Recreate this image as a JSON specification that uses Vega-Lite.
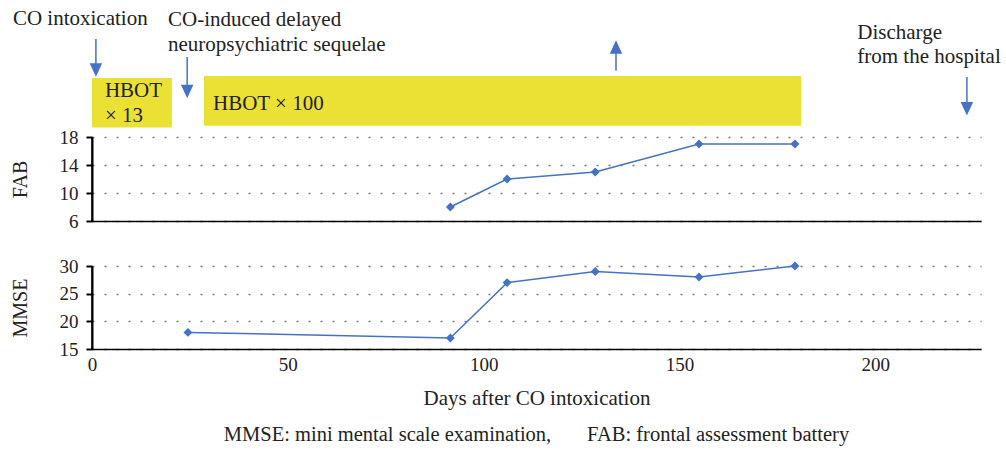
{
  "$schema": "https://vega.github.io/schema/vega-lite/v6.json",
  "padding": {"left": 10, "top": 0, "right": 5, "bottom": 8},
  "background": "white",
  "config": {
    "view": {"stroke": null},
    "font": "Liberation Serif",
    "axis": {
      "labelFont": "Liberation Serif",
      "titleFont": "Liberation Serif",
      "labelColor": "#222222",
      "titleColor": "#222222",
      "labelFontSize": 19,
      "titleFontSize": 20,
      "titleFontWeight": "normal",
      "domainColor": "#000000",
      "domainWidth": 1.5,
      "tickColor": "#000000",
      "labelFlush": false,
      "labelOverlap": false,
      "labelBound": false
    }
  },
  "title": {
    "text": "MMSE: mini mental scale examination,\u00a0\u00a0\u00a0\u00a0\u00a0\u00a0\u00a0FAB: frontal assessment battery",
    "orient": "bottom",
    "anchor": "middle",
    "frame": "group",
    "font": "Liberation Serif",
    "fontSize": 20.5,
    "fontWeight": "normal",
    "color": "#222222",
    "offset": 17
  },
  "spacing": 0,
  "bounds": "flush",
  "vconcat": [
    {
      "width": 889,
      "height": 137,
      "layer": [
        {
          "data": {"name": "rects"},
          "mark": {"type": "rect", "color": "#EBE134"},
          "encoding": {
            "x": {"field": "start", "type": "quantitative", "scale": {"domain": [0, 227], "nice": false}, "axis": null},
            "x2": {"field": "end"},
            "y": {"field": "bottom", "type": "quantitative", "scale": {"domain": [0, 137], "nice": false}, "axis": null},
            "y2": {"field": "top"}
          }
        },
        {
          "data": {"name": "arrows"},
          "mark": {"type": "rule", "color": "#4472C4", "strokeWidth": 1.5},
          "encoding": {
            "x": {"field": "day", "type": "quantitative", "scale": {"domain": [0, 227], "nice": false}, "axis": null},
            "y": {"field": "tail", "type": "quantitative", "scale": {"domain": [0, 137], "nice": false}, "axis": null},
            "y2": {"field": "neck"}
          }
        },
        {
          "data": {"name": "arrows"},
          "mark": {"type": "point", "filled": true, "color": "#4472C4", "opacity": 1, "size": 180, "strokeWidth": 0},
          "encoding": {
            "x": {"field": "day", "type": "quantitative", "scale": {"domain": [0, 227], "nice": false}, "axis": null},
            "y": {"field": "head", "type": "quantitative", "scale": {"domain": [0, 137], "nice": false}, "axis": null},
            "shape": {"field": "dir", "type": "nominal", "scale": {"domain": ["down", "up"], "range": ["M-0.93,-1L0.93,-1L0,1Z", "M-0.93,1L0.93,1L0,-1Z"]}, "legend": null}
          }
        },
        {
          "data": {"name": "labels"},
          "mark": {"type": "text", "align": "left", "baseline": "alphabetic", "fontSize": 21, "font": "Liberation Serif", "color": "#222222"},
          "encoding": {
            "x": {"field": "day", "type": "quantitative", "scale": {"domain": [0, 227], "nice": false}, "axis": null},
            "y": {"field": "level", "type": "quantitative", "scale": {"domain": [0, 137], "nice": false}, "axis": null},
            "text": {"field": "label"}
          }
        }
      ]
    },
    {
      "spacing": 45,
      "bounds": "flush",
      "vconcat": [
        {
          "width": 889,
          "height": 84,
          "layer": [
            {
              "data": {"name": "fab"},
              "mark": {"type": "line", "color": "#4472C4", "strokeWidth": 1.5},
              "encoding": {
                "x": {"field": "day", "type": "quantitative", "scale": {"domain": [0, 227], "nice": false},
                      "axis": {"title": null, "labels": false, "ticks": false, "grid": false, "domain": true, "domainDash": []}},
                "y": {"field": "FAB", "type": "quantitative", "title": "FAB", "scale": {"domain": [6, 18], "nice": false},
                      "axis": {"title": "FAB", "values": [6, 10, 14, 18], "grid": true, "gridDash": [2, 10], "gridColor": "#777777", "gridWidth": 1.5,
                               "domain": true, "domainColor": "#000000", "domainWidth": 2, "domainDash": [], "ticks": true, "tickColor": "#000000", "tickDash": [], "labels": true, "labelOverlap": false,
                               "tickSize": 6, "tickWidth": 2, "labelPadding": 8, "titleX": -62}}
              }
            },
            {
              "data": {"name": "fab"},
              "mark": {"type": "point", "shape": "diamond", "filled": true, "size": 80, "opacity": 1, "color": "#4472C4"},
              "encoding": {
                "x": {"field": "day", "type": "quantitative", "scale": {"domain": [0, 227], "nice": false},
                      "axis": {"title": null, "labels": false, "ticks": false, "grid": false, "domain": true, "domainDash": []}},
                "y": {"field": "FAB", "type": "quantitative", "title": "FAB", "scale": {"domain": [6, 18], "nice": false},
                      "axis": {"title": "FAB", "values": [6, 10, 14, 18], "grid": true, "gridDash": [2, 10], "gridColor": "#777777", "gridWidth": 1.5,
                               "domain": true, "domainColor": "#000000", "domainWidth": 2, "domainDash": [], "ticks": true, "tickColor": "#000000", "tickDash": [], "labels": true, "labelOverlap": false,
                               "tickSize": 6, "tickWidth": 2, "labelPadding": 8, "titleX": -62}}
              }
            },
            {
              "data": {"name": "fabaxis"},
              "mark": {"type": "rule", "color": "#000000", "strokeWidth": 1.5},
              "encoding": {
                "x": {"field": "day", "type": "quantitative", "scale": {"domain": [0, 227], "nice": false},
                      "axis": {"title": null, "labels": false, "ticks": false, "grid": false, "domain": true, "domainDash": []}},
                "y": {"field": "lo", "type": "quantitative", "title": "FAB", "scale": {"domain": [6, 18], "nice": false},
                      "axis": {"title": "FAB", "values": [6, 10, 14, 18], "grid": true, "gridDash": [2, 10], "gridColor": "#777777", "gridWidth": 1.5,
                               "domain": true, "domainColor": "#000000", "domainWidth": 2, "domainDash": [], "ticks": true, "tickColor": "#000000", "tickDash": [], "labels": true, "labelOverlap": false,
                               "tickSize": 6, "tickWidth": 2, "labelPadding": 8, "titleX": -62}},
                "y2": {"field": "hi"}
              }
            }
          ]
        },
        {
          "width": 889,
          "height": 83,
          "layer": [
            {
              "data": {"name": "mmse"},
              "mark": {"type": "line", "color": "#4472C4", "strokeWidth": 1.5},
              "encoding": {
                "x": {"field": "day", "type": "quantitative", "scale": {"domain": [0, 227], "nice": false},
                      "axis": {"title": "Days after CO intoxication", "titleFontSize": 21, "values": [0, 50, 100, 150, 200], "ticks": false, "tickSize": 0, "grid": false, "domainDash": [], "labelPadding": 6, "titlePadding": 13}},
                "y": {"field": "MMSE", "type": "quantitative", "title": "MMSE", "scale": {"domain": [15, 30], "nice": false},
                      "axis": {"title": "MMSE", "values": [15, 20, 25, 30], "grid": true, "gridDash": [2, 10], "gridColor": "#777777", "gridWidth": 1.5,
                               "domain": true, "domainColor": "#000000", "domainWidth": 2, "domainDash": [], "ticks": true, "tickColor": "#000000", "tickDash": [], "labels": true, "labelOverlap": false,
                               "tickSize": 6, "tickWidth": 2, "labelPadding": 8, "titleX": -62}}
              }
            },
            {
              "data": {"name": "mmse"},
              "mark": {"type": "point", "shape": "diamond", "filled": true, "size": 80, "opacity": 1, "color": "#4472C4"},
              "encoding": {
                "x": {"field": "day", "type": "quantitative", "scale": {"domain": [0, 227], "nice": false},
                      "axis": {"title": "Days after CO intoxication", "titleFontSize": 21, "values": [0, 50, 100, 150, 200], "ticks": false, "tickSize": 0, "grid": false, "domainDash": [], "labelPadding": 6, "titlePadding": 13}},
                "y": {"field": "MMSE", "type": "quantitative", "title": "MMSE", "scale": {"domain": [15, 30], "nice": false},
                      "axis": {"title": "MMSE", "values": [15, 20, 25, 30], "grid": true, "gridDash": [2, 10], "gridColor": "#777777", "gridWidth": 1.5,
                               "domain": true, "domainColor": "#000000", "domainWidth": 2, "domainDash": [], "ticks": true, "tickColor": "#000000", "tickDash": [], "labels": true, "labelOverlap": false,
                               "tickSize": 6, "tickWidth": 2, "labelPadding": 8, "titleX": -62}}
              }
            },
            {
              "data": {"name": "mmseaxis"},
              "mark": {"type": "rule", "color": "#000000", "strokeWidth": 1.5},
              "encoding": {
                "x": {"field": "day", "type": "quantitative", "scale": {"domain": [0, 227], "nice": false},
                      "axis": {"title": "Days after CO intoxication", "titleFontSize": 21, "values": [0, 50, 100, 150, 200], "ticks": false, "tickSize": 0, "grid": false, "domainDash": [], "labelPadding": 6, "titlePadding": 13}},
                "y": {"field": "lo", "type": "quantitative", "title": "MMSE", "scale": {"domain": [15, 30], "nice": false},
                      "axis": {"title": "MMSE", "values": [15, 20, 25, 30], "grid": true, "gridDash": [2, 10], "gridColor": "#777777", "gridWidth": 1.5,
                               "domain": true, "domainColor": "#000000", "domainWidth": 2, "domainDash": [], "ticks": true, "tickColor": "#000000", "tickDash": [], "labels": true, "labelOverlap": false,
                               "tickSize": 6, "tickWidth": 2, "labelPadding": 8, "titleX": -62}},
                "y2": {"field": "hi"}
              }
            }
          ]
        }
      ]
    }
  ],
  "datasets": {
    "fab": [
      {"day": 91.5, "FAB": 8},
      {"day": 106, "FAB": 12},
      {"day": 128.5, "FAB": 13},
      {"day": 155, "FAB": 17},
      {"day": 179.5, "FAB": 17}
    ],
    "mmse": [
      {"day": 24.5, "MMSE": 18},
      {"day": 91.5, "MMSE": 17},
      {"day": 106, "MMSE": 27},
      {"day": 128.5, "MMSE": 29},
      {"day": 155, "MMSE": 28},
      {"day": 179.5, "MMSE": 30}
    ],
    "fabaxis": [{"day": 0, "lo": 6, "hi": 18}],
    "mmseaxis": [{"day": 0, "lo": 15, "hi": 30}],
    "rects": [
      {"name": "HBOT x 13", "start": 0, "end": 20.4, "bottom": 9.5, "top": 59},
      {"name": "HBOT x 100", "start": 28.6, "end": 181.1, "bottom": 11.3, "top": 61}
    ],
    "arrows": [
      {"event": "CO intoxication", "day": 1.0, "dir": "down", "tail": 98, "neck": 72, "head": 67},
      {"event": "CO-induced delayed neuropsychiatric sequelae", "day": 24.3, "dir": "down", "tail": 80, "neck": 50, "head": 45.5},
      {"event": "unlabelled", "day": 133.8, "dir": "up", "tail": 66.3, "neck": 86, "head": 90},
      {"event": "Discharge from the hospital", "day": 223.4, "dir": "down", "tail": 60, "neck": 34, "head": 28.3}
    ],
    "labels": [
      {"label": "CO intoxication", "day": -20.2, "level": 112},
      {"label": "CO-induced delayed", "day": 19.4, "level": 111},
      {"label": "neuropsychiatric sequelae", "day": 19.4, "level": 86},
      {"label": "HBOT", "day": 3.3, "level": 40},
      {"label": "× 13", "day": 3.3, "level": 15},
      {"label": "HBOT × 100", "day": 30.9, "level": 27},
      {"label": "Discharge", "day": 195.4, "level": 98},
      {"label": "from the hospital", "day": 195.4, "level": 74}
    ]
  }
}
